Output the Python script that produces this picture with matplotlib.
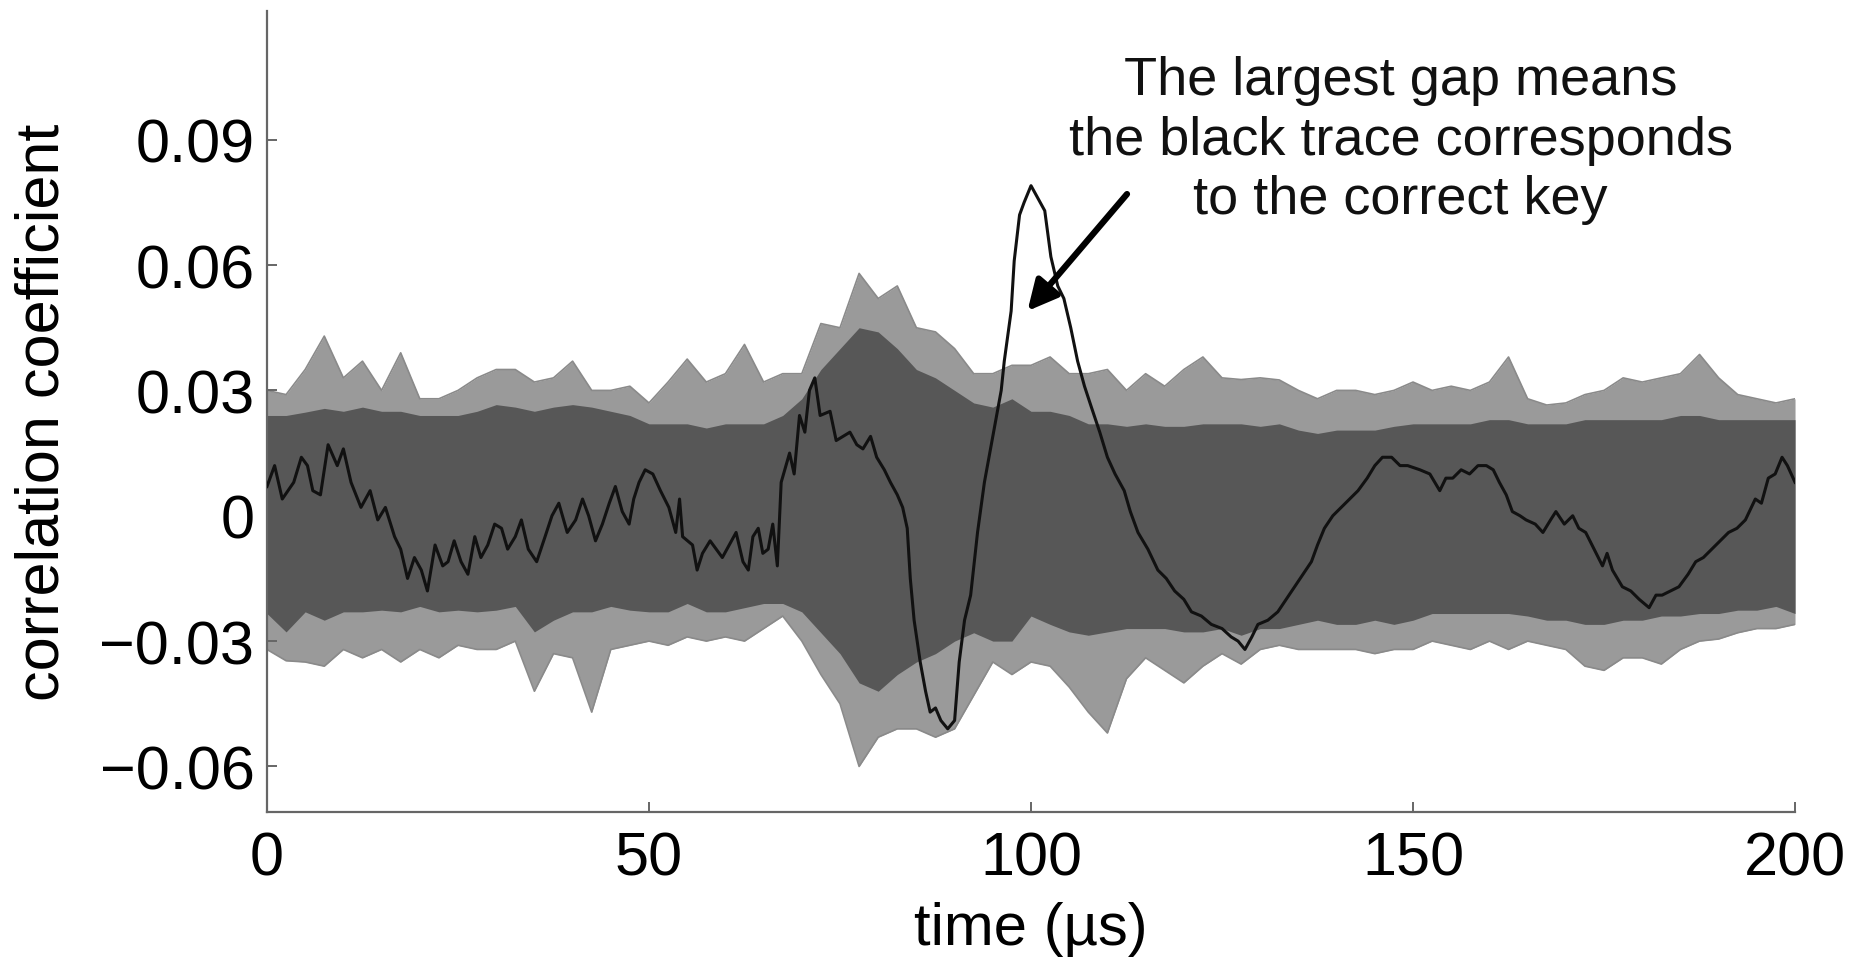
import numpy as np
import matplotlib
matplotlib.use("Agg")
import matplotlib.pyplot as plt

plt.rcParams['font.family'] = ['Liberation Sans', 'DejaVu Sans']

# envelope of the gray traces (wrong key guesses), read every 2.5 us
band_t = np.arange(0, 200.1, 2.5)
upper_light = [0.030, 0.029, 0.035, 0.043, 0.033, 0.037, 0.030, 0.039, 0.028, 0.028,
               0.030, 0.033, 0.035, 0.035, 0.032, 0.033, 0.037, 0.030, 0.030, 0.031,
               0.027, 0.032, 0.0375, 0.032, 0.034, 0.041, 0.032, 0.034, 0.034, 0.046,
               0.045, 0.058, 0.052, 0.055, 0.045, 0.044, 0.040, 0.034, 0.034, 0.036,
               0.036, 0.038, 0.034, 0.034, 0.035, 0.030, 0.034, 0.031, 0.035, 0.038,
               0.033, 0.0326, 0.033, 0.0325, 0.030, 0.028, 0.030, 0.030, 0.029, 0.030,
               0.032, 0.030, 0.031, 0.030, 0.032, 0.038, 0.028, 0.0265, 0.027, 0.029,
               0.030, 0.033, 0.032, 0.033, 0.034, 0.0386, 0.033, 0.029, 0.028, 0.027,
               0.028]
upper_dark = [0.024, 0.024, 0.0248, 0.0257, 0.025, 0.026, 0.025, 0.025, 0.024, 0.024,
              0.024, 0.025, 0.0266, 0.026, 0.025, 0.026, 0.0266, 0.026, 0.025, 0.024,
              0.022, 0.022, 0.022, 0.021, 0.022, 0.022, 0.022, 0.024, 0.028, 0.035,
              0.040, 0.045, 0.044, 0.040, 0.035, 0.033, 0.030, 0.027, 0.026, 0.028,
              0.025, 0.025, 0.024, 0.022, 0.022, 0.0214, 0.022, 0.0214, 0.0214, 0.022,
              0.022, 0.022, 0.0214, 0.022, 0.0205, 0.0197, 0.0205, 0.0205, 0.0205, 0.0214,
              0.022, 0.022, 0.022, 0.022, 0.023, 0.023, 0.022, 0.022, 0.022, 0.023,
              0.023, 0.023, 0.023, 0.023, 0.024, 0.024, 0.023, 0.023, 0.023, 0.023,
              0.023]
lower_dark = [-0.0234, -0.0278, -0.023, -0.025, -0.023, -0.023, -0.0226, -0.023, -0.0217, -0.023,
              -0.0226, -0.023, -0.0226, -0.0217, -0.0278, -0.025, -0.023, -0.023, -0.0217, -0.0226,
              -0.023, -0.023, -0.021, -0.023, -0.023, -0.022, -0.021, -0.021, -0.023, -0.028,
              -0.033, -0.040, -0.042, -0.038, -0.035, -0.033, -0.030, -0.028, -0.030, -0.030,
              -0.024, -0.026, -0.0278, -0.0286, -0.0278, -0.027, -0.027, -0.027, -0.0278, -0.0278,
              -0.027, -0.0286, -0.027, -0.027, -0.026, -0.025, -0.026, -0.026, -0.025, -0.026,
              -0.025, -0.0234, -0.0234, -0.0234, -0.0234, -0.0234, -0.024, -0.025, -0.025, -0.026,
              -0.026, -0.025, -0.025, -0.024, -0.024, -0.0234, -0.0234, -0.0226, -0.0226, -0.0217,
              -0.0234]
lower_light = [-0.032, -0.0347, -0.035, -0.036, -0.032, -0.034, -0.032, -0.035, -0.032, -0.034,
               -0.031, -0.032, -0.032, -0.030, -0.042, -0.033, -0.034, -0.047, -0.032, -0.031,
               -0.030, -0.031, -0.029, -0.030, -0.029, -0.030, -0.027, -0.024, -0.030, -0.038,
               -0.045, -0.060, -0.053, -0.051, -0.051, -0.053, -0.051, -0.043, -0.035, -0.038,
               -0.035, -0.036, -0.041, -0.047, -0.052, -0.039, -0.034, -0.037, -0.040, -0.036,
               -0.033, -0.0355, -0.032, -0.031, -0.032, -0.032, -0.032, -0.032, -0.033, -0.032,
               -0.032, -0.030, -0.031, -0.032, -0.030, -0.032, -0.030, -0.031, -0.032, -0.036,
               -0.037, -0.034, -0.034, -0.0355, -0.032, -0.030, -0.0295, -0.028, -0.027, -0.027,
               -0.026]

# correct key trace (black)
key_t = [0, 1, 2, 3.5, 4.5, 5.3, 6, 7, 8, 9.2, 10, 11, 12.3, 13.5, 14.5, 15.5, 16.7, 17.5,
         18.4, 19.3, 20.2, 21, 22, 23, 23.7, 24.5, 25.4, 26.3, 27.2, 28, 28.9, 29.8, 30.7,
         31.5, 32.5, 33.3, 34.2, 35.3, 36.4, 37.3, 38.2, 39.3, 40.4, 41.3, 42.1, 43, 43.9,
         44.8, 45.6, 46.5, 47.4, 48, 48.7, 49.5, 50.5, 51.5, 52.6, 53.5, 54, 54.4, 55.7,
         56.3, 57, 58, 58.8, 59.6, 60.5, 61.4, 62.3, 63, 63.6, 64.3, 64.9, 65.6, 66.2, 66.8,
         67.3, 68.4, 69, 69.7, 70.4, 71, 71.7, 72.4, 73.7, 74.5, 75.4, 76.3, 77.2, 78, 79,
         79.8, 80.8, 81.6, 82.5, 83.2, 83.8, 84.2, 84.7, 85.5, 86.2, 86.8, 87.5, 88.2, 89.1,
         90, 90.6, 91.3, 92.1, 93, 93.9, 95.2, 96.1, 96.5, 97.4, 97.8, 98.5, 99.1, 100,
         100.9, 101.8, 102.6, 103.5, 104.3, 105.2, 106.1, 107, 107.9, 109, 110, 111, 112.2,
         113, 114, 115.3, 116.6, 117.7, 118.8, 120, 121, 122.3, 123.6, 125, 126.2, 127.1,
         128, 128.9, 129.7, 131, 132.3, 133.4, 134.5, 135.6, 136.7, 137.5, 138.4, 139.5,
         140.6, 141.7, 142.8, 144, 145, 146, 147.2, 148.3, 149.3, 150.9, 152.2, 153.5,
         154.3, 155.2, 156.3, 157.4, 158.5, 159.6, 160.5, 161.3, 162.2, 163, 164, 164.8,
         166, 167, 168, 168.7, 169.8, 170.9, 171.7, 172.6, 173.7, 174.8, 175.4, 176.1,
         177.4, 178.5, 179.6, 180.9, 181.8, 182.6, 183.7, 184.8, 186, 187, 188, 189.1,
         190.2, 191.3, 192.4, 193.5, 194.8, 195.6, 196.5, 197.4, 198.3, 199, 200]
key_r = [0.007, 0.012, 0.004, 0.008, 0.014, 0.012, 0.006, 0.005, 0.017, 0.012, 0.016, 0.008,
         0.002, 0.006, -0.001, 0.002, -0.005, -0.008, -0.015, -0.010, -0.013, -0.018, -0.007,
         -0.012, -0.011, -0.006, -0.011, -0.014, -0.005, -0.010, -0.007, -0.002, -0.003,
         -0.008, -0.005, -0.001, -0.008, -0.011, -0.005, 0.0, 0.003, -0.004, -0.001, 0.004,
         0.0, -0.006, -0.002, 0.003, 0.007, 0.001, -0.002, 0.004, 0.008, 0.011, 0.010, 0.006,
         0.002, -0.004, 0.004, -0.005, -0.007, -0.013, -0.009, -0.006, -0.008, -0.010, -0.007,
         -0.004, -0.011, -0.013, -0.005, -0.003, -0.009, -0.008, -0.002, -0.012, 0.008, 0.015,
         0.010, 0.024, 0.020, 0.030, 0.033, 0.024, 0.025, 0.018, 0.019, 0.020, 0.017, 0.016,
         0.019, 0.014, 0.011, 0.008, 0.005, 0.002, -0.003, -0.015, -0.025, -0.035, -0.042,
         -0.047, -0.046, -0.049, -0.051, -0.049, -0.035, -0.025, -0.019, -0.004, 0.008, 0.021,
         0.030, 0.037, 0.049, 0.061, 0.072, 0.075, 0.079, 0.076, 0.073, 0.062, 0.055, 0.052,
         0.045, 0.037, 0.031, 0.026, 0.020, 0.014, 0.010, 0.006, 0.001, -0.004, -0.008, -0.013,
         -0.015, -0.018, -0.020, -0.023, -0.024, -0.026, -0.027, -0.029, -0.030, -0.032,
         -0.029, -0.026, -0.025, -0.023, -0.020, -0.017, -0.014, -0.011, -0.007, -0.003, 0.0,
         0.002, 0.004, 0.006, 0.009, 0.012, 0.014, 0.014, 0.012, 0.012, 0.011, 0.010, 0.006,
         0.009, 0.009, 0.011, 0.010, 0.012, 0.012, 0.011, 0.008, 0.005, 0.001, 0.0, -0.001,
         -0.002, -0.004, -0.001, 0.001, -0.002, 0.0, -0.003, -0.004, -0.008, -0.012, -0.009,
         -0.013, -0.017, -0.018, -0.020, -0.022, -0.019, -0.019, -0.018, -0.017, -0.014,
         -0.011, -0.010, -0.008, -0.006, -0.004, -0.003, -0.001, 0.004, 0.003, 0.009, 0.010,
         0.014, 0.012, 0.008]

x_ticks = [0, 50, 100, 150, 200]
y_ticks = [-0.06, -0.03, 0, 0.03, 0.06, 0.09]
y_tick_labels = ['\u22120.06', '\u22120.03', '0', '0.03', '0.06', '0.09']

note = 'The largest gap means\nthe black trace corresponds\nto the correct key'

fig = plt.figure(figsize=(18.54, 9.62), dpi=100)
ax = fig.add_axes([0.1440, 0.1549, 0.8242, 0.8326])

ax.fill_between(band_t, lower_light, upper_light, color='#9a9a9a', lw=0, zorder=1)
ax.plot(band_t, upper_light, color='#8a8a8a', lw=1.2, zorder=1)
ax.plot(band_t, lower_light, color='#8a8a8a', lw=1.2, zorder=1)
ax.fill_between(band_t, lower_dark, upper_dark, color='#575757', lw=0, zorder=2)
ax.plot(key_t, key_r, color='#111111', lw=2.2, zorder=3)

ax.set_xlim(0, 200)
ax.set_ylim(-0.0709, 0.1208)
ax.set_xticks(x_ticks)
ax.set_yticks(y_ticks)
ax.set_yticklabels(y_tick_labels)

for side in ['top', 'right']:
    ax.spines[side].set_visible(False)
for side in ['left', 'bottom']:
    ax.spines[side].set_color('#666666')
    ax.spines[side].set_linewidth(1.6)
ax.tick_params(direction='in', length=7, width=1.4, color='#666666', labelsize=44)
ax.tick_params(axis='x', pad=13)
ax.tick_params(axis='y', pad=9)

ax.set_xlabel('time (\u00b5s)', fontsize=43, labelpad=10)
ax.set_ylabel('correlation coefficient', fontsize=44, labelpad=20)

ax.text(148.4, 0.0900, note, fontsize=39, ha='center', va='center',
        multialignment='center', linespacing=1.24, color='#111111')
ax.annotate('', xy=(99.3, 0.0485), xytext=(112.8, 0.0775),
            arrowprops=dict(arrowstyle='-|>', color='black', lw=4.5, mutation_scale=45))

fig.savefig('out.png', dpi=100)
